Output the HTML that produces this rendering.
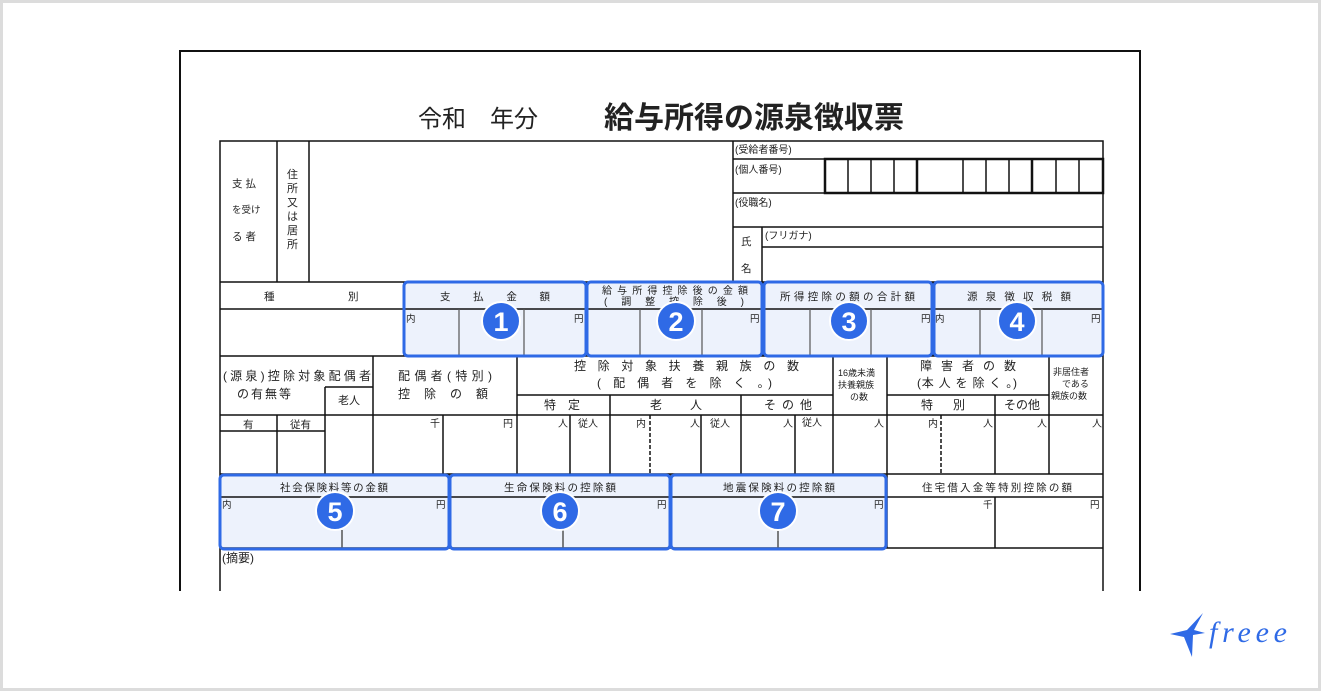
<!DOCTYPE html>
<html><head><meta charset="utf-8"><style>
html,body{margin:0;padding:0;background:#fff}
svg{display:block}
text{font-family:"Liberation Sans","Noto Sans CJK JP",sans-serif;fill:#222}
</style></head><body>
<svg width="1321" height="691" viewBox="0 0 1321 691" xmlns="http://www.w3.org/2000/svg">
<rect x="1.5" y="1.5" width="1318" height="688" fill="#fff" stroke="#dcdcdc" stroke-width="3"/>
<g stroke="#111" stroke-width="2" fill="none">
<path d="M180 591V51H1140V591"/>
</g>
<text x="418" y="127" font-size="24">令和</text>
<text x="490" y="127" font-size="24">年分</text>
<text x="604" y="128" font-size="30" font-weight="bold" fill="#111">給与所得の源泉徴収票</text>

<g fill="#edf2fc">
<rect x="404" y="282" width="182" height="74"/>
<rect x="587" y="282" width="175" height="74"/>
<rect x="764" y="282" width="168" height="74"/>
<rect x="934" y="282" width="169" height="74"/>
<rect x="220" y="475" width="229" height="74"/>
<rect x="450" y="475" width="220" height="74"/>
<rect x="671" y="475" width="215" height="74"/>
</g>

<g stroke="#111" stroke-width="1.5" fill="none">
<path d="M220 591V141H1103V591"/>
<path d="M277 141V282M309 141V282M733 141V282"/>
<path d="M733 159H1103M733 193H1103M733 227H1103M762 227V282M762 247H1103"/>
<rect x="825" y="159" width="278" height="34" stroke-width="2.5"/>
<path d="M848 159V193M871 159V193M894 159V193M963 159V193M986 159V193M1009 159V193M1056 159V193M1079 159V193" />
<path d="M917 159V193M1032 159V193" stroke-width="2.5"/>
<path d="M220 282H1103M220 309H1103M220 356H1103"/>
<path d="M404 282V356M586 282V356M763 282V356M933 282V356"/>
<path d="M459 309V356M524 309V356M640 309V356M702 309V356M810 309V356M871 309V356M980 309V356M1042 309V356" stroke="#555" stroke-width="1.2"/>
<path d="M373 356V474M517 356V474M833 356V474M887 356V474M1049 356V474"/>
<path d="M325 387H373M325 387V474M517 395H833M887 395H1049M610 395V474M741 395V474M995 395V474"/>
<path d="M220 415H1103"/>
<path d="M220 431H325M277 415V474M443 415V474M570 415V474M701 415V474M795 415V474" />
<path d="M650 415V474M941 415V474" stroke-dasharray="4 2"/>
<path d="M220 474H1103M220 497H1103M220 548H1103"/>
<path d="M449 474V548M670 474V548M887 474V548M995 497V548"/>
<path d="M342 530V548M563 530V548M778 530V548" stroke="#555"/>
</g>

<g font-size="10.5">
<text x="232" y="187" textLength="24">支 払</text>
<text x="232" y="213" font-size="9.5">を受け</text>
<text x="232" y="240" textLength="24">る 者</text>
<g font-size="11"><text x="287" y="178">住</text><text x="287" y="192">所</text><text x="287" y="206">又</text><text x="287" y="220">は</text><text x="287" y="234">居</text><text x="287" y="248">所</text></g>
<text x="735" y="153" font-size="10">(受給者番号)</text>
<text x="735" y="173" font-size="10">(個人番号)</text>
<text x="735" y="206" font-size="10">(役職名)</text>
<text x="765" y="239" font-size="10">(フリガナ)</text>
<text x="741" y="245">氏</text>
<text x="741" y="272">名</text>
<text x="264" y="300">種</text>
<text x="348" y="300">別</text>
<text x="440" y="300" textLength="110">支　 払　 金　 額</text>
<text x="602" y="294" font-size="10" textLength="146">給与所得控除後の金額</text>
<text x="604" y="305" font-size="10" textLength="140">(　調　整　控　除　後　)</text>
<text x="780" y="300" textLength="135">所得控除の額の合計額</text>
<text x="967" y="300" textLength="104">源 泉 徴 収 税 額</text>
<g font-size="9.5"><text x="406" y="322">内</text><text x="574" y="322">円</text><text x="750" y="322">円</text><text x="921" y="322">円</text><text x="935" y="322">内</text><text x="1091" y="322">円</text></g>
<g font-size="12">
<text x="223" y="380" textLength="148">(源泉)控除対象配偶者</text>
<text x="237" y="398" textLength="54">の 有 無 等</text>
<text x="338" y="404" font-size="11">老人</text>
<text x="398" y="380" textLength="94">配偶者(特別)</text>
<text x="398" y="398" textLength="90">控　除　の　額</text>
<text x="574" y="370" textLength="225">控 除 対 象 扶 養 親 族 の 数</text>
<text x="597" y="387" textLength="175">( 配 偶 者 を 除 く 。)</text>
<text x="544" y="409">特　定</text>
<text x="650" y="409" textLength="52">老　 人</text>
<text x="764" y="409" textLength="48">そ の 他</text>
<text x="920" y="370" textLength="96">障 害 者 の 数</text>
<text x="917" y="387" textLength="100">(本 人 を 除 く 。)</text>
<text x="921" y="409" textLength="44">特　 別</text>
<text x="1004" y="409">その他</text>
</g>
<g font-size="9"><text x="838" y="376">16歳未満</text><text x="838" y="388">扶養親族</text><text x="850" y="400">の数</text>
<text x="1053" y="375">非居住者</text><text x="1062" y="387">である</text><text x="1051" y="399">親族の数</text></g>
<text x="243" y="428">有</text><text x="290" y="428">従有</text>
<g font-size="10"><text x="430" y="427">千</text><text x="503" y="427">円</text><text x="558" y="427">人</text><text x="578" y="427">従人</text>
<text x="636" y="427">内</text><text x="690" y="427">人</text><text x="710" y="427">従人</text><text x="783" y="427">人</text><text x="802" y="426">従人</text>
<text x="874" y="427">人</text><text x="928" y="427">内</text><text x="983" y="427">人</text><text x="1037" y="427">人</text><text x="1092" y="427">人</text></g>
<text x="280" y="491" textLength="108">社会保険料等の金額</text>
<text x="504" y="491" textLength="112">生命保険料の控除額</text>
<text x="723" y="491" textLength="112">地震保険料の控除額</text>
<text x="922" y="491" textLength="150">住宅借入金等特別控除の額</text>
<g font-size="9.5"><text x="222" y="508">内</text><text x="436" y="508">円</text><text x="657" y="508">円</text><text x="874" y="508">円</text><text x="983" y="508">千</text><text x="1090" y="508">円</text></g>
<text x="222" y="562" font-size="12">(摘要)</text>
</g>

<g fill="none" stroke="#2f6ae6" stroke-width="3">
<rect x="404" y="282" width="182" height="74" rx="4"/>
<rect x="587" y="282" width="175" height="74" rx="4"/>
<rect x="764" y="282" width="168" height="74" rx="4"/>
<rect x="934" y="282" width="169" height="74" rx="4"/>
<rect x="220" y="475" width="229" height="74" rx="4"/>
<rect x="450" y="475" width="220" height="74" rx="4"/>
<rect x="671" y="475" width="215" height="74" rx="4"/>
</g>
<g stroke="#fff" stroke-width="2" fill="#2f6ae6">
<circle cx="501" cy="321" r="19"/><circle cx="676" cy="321" r="19"/><circle cx="849" cy="321" r="19"/><circle cx="1017" cy="321" r="19"/>
<circle cx="335" cy="511" r="19"/><circle cx="560" cy="511" r="19"/><circle cx="778" cy="511" r="19"/>
</g>
<g font-size="27" font-weight="bold" text-anchor="middle">
<text x="501" y="331" style="fill:#fff">1</text><text x="676" y="331" style="fill:#fff">2</text><text x="849" y="331" style="fill:#fff">3</text><text x="1017" y="331" style="fill:#fff">4</text>
<text x="335" y="521" style="fill:#fff">5</text><text x="560" y="521" style="fill:#fff">6</text><text x="778" y="521" style="fill:#fff">7</text>
</g>

<g fill="#2f6ae6">
<path d="M1170 634 L1187 630 L1203 613 L1194 630 L1205 633 L1193 635 L1192 657 L1184 637 Z"/>
</g>
<text x="1209" y="642" font-size="30" font-style="italic" textLength="78" style="fill:#2f6ae6;font-family:'Liberation Serif',serif">freee</text>
</svg>
</body></html>
